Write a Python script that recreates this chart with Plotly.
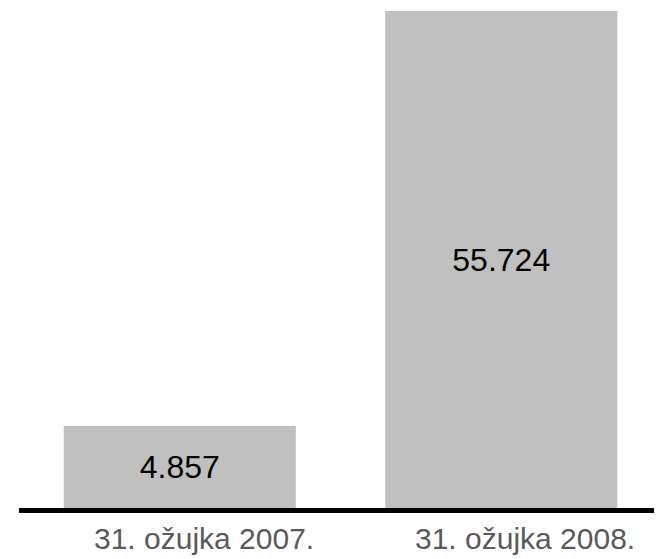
import plotly.graph_objects as go

# data
categories = ["31. ožujka 2007.", "31. ožujka 2008."]
values = [4857, 55724]
value_labels = ["4.857", "55.724"]

# axis floor (the chart does not start at zero)
y_floor = -5194
y_top = 56092

fig = go.Figure()

fig.add_trace(go.Bar(
    x=categories,
    y=[v - y_floor for v in values],
    base=y_floor,
    text=value_labels,
    textposition="inside",
    insidetextanchor="middle",
    textfont=dict(size=32, color="black", family="Liberation Sans"),
    marker=dict(color="#c0c0c0", line=dict(width=0)),
    hoverinfo="skip",
    showlegend=False,
))

# category labels as annotations (shifted right like the original)
for c in categories:
    fig.add_annotation(
        x=c, y=0, xref="x", yref="paper",
        text=c, showarrow=False,
        yanchor="top", yshift=-12, xshift=24,
        font=dict(size=30, color="#5a5a5a", family="Liberation Sans"),
    )

# page body has an 8px margin, so the figure is a bit smaller than the window
fig.update_layout(
    width=654, height=551,
    margin=dict(l=11, r=0, t=0, b=51),
    paper_bgcolor="white",
    plot_bgcolor="white",
    bargap=0.278,
    uniformtext=dict(minsize=32, mode="show"),
)
fig.update_xaxes(
    range=[-0.5, 1.5],
    showticklabels=False, ticks="",
    showgrid=False, zeroline=False,
    showline=True, linecolor="black", linewidth=5,
)
fig.update_yaxes(
    range=[y_floor, y_top],
    visible=False, showgrid=False, zeroline=False,
)

fig.write_html("out.html")
